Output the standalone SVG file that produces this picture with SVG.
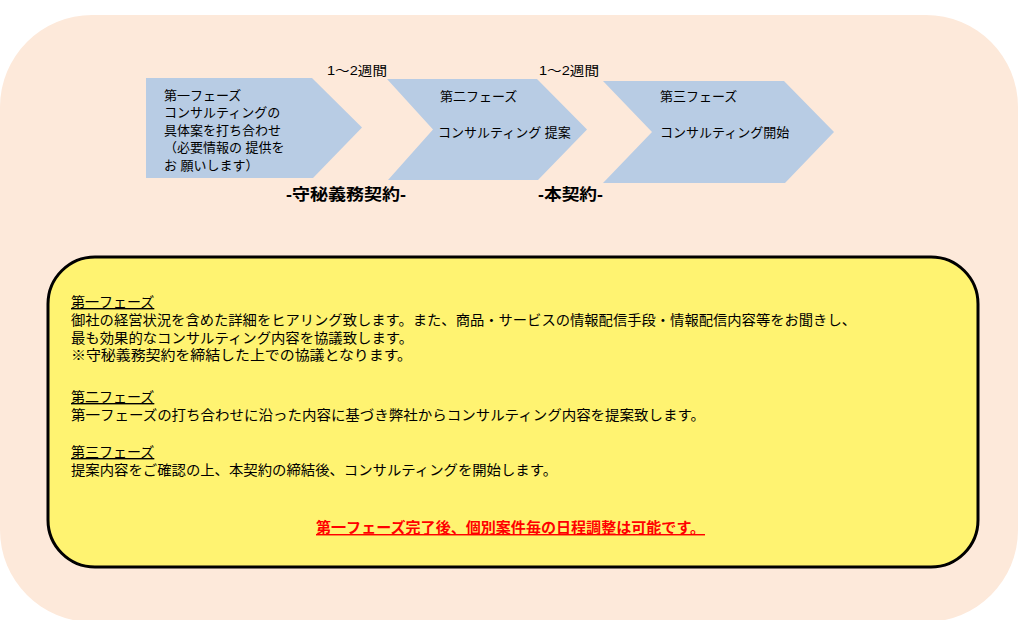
<svg xmlns="http://www.w3.org/2000/svg" width="1018" height="620" viewBox="0 0 1018 620">
  <style>
    text { font-family: 'Liberation Sans', 'Noto Sans CJK JP', sans-serif; fill: #000; }
    .chev { fill: #B8CCE4; }
    .ct { font-size: 13px; }
    .lbl { font-size: 16px; font-weight: bold; }
    .body { font-size: 14px; }
    .hd { font-size: 14px; text-decoration: underline; }
    .note { font-size: 14.5px; font-weight: bold; fill: #FF0000; text-decoration: underline; }
  </style>
  <rect id="background" x="0" y="15" width="1018" height="607" rx="92" ry="92" fill="#FDE9DA"/>

  <g id="phase1">
    <polygon class="chev" points="146,78 312,78 362,127.5 313,178 146,178"/>
    <text class="ct" x="164" y="99.5">第一フェーズ</text>
    <text class="ct" x="164" y="117">コンサルティングの</text>
    <text class="ct" x="164" y="134.5">具体案を打ち合わせ</text>
    <text class="ct" x="164" y="152">（必要情報の 提供を</text>
    <text class="ct" x="164" y="169.5">お 願いします）</text>
  </g>

  <g id="phase2">
    <polygon class="chev" points="387,79 537,79 587,129.5 538,180 388,180 433,129.5"/>
    <text class="ct" x="440" y="101">第二フェーズ</text>
    <text class="ct" x="438" y="136.5">コンサルティング 提案</text>
  </g>

  <g id="phase3">
    <polygon class="chev" points="603,81 784,81 834,132 785,183 603,183 652,132"/>
    <text class="ct" x="660" y="101">第三フェーズ</text>
    <text class="ct" x="660" y="136.5">コンサルティング開始</text>
  </g>

  <g id="connectors"/>

  <g id="labels">
    <text class="ct" x="327" y="75" textLength="60" lengthAdjust="spacingAndGlyphs">1～2週間</text>
    <text class="ct" x="539" y="75" textLength="60" lengthAdjust="spacingAndGlyphs">1～2週間</text>
    <text class="lbl" x="286" y="200" textLength="120" lengthAdjust="spacingAndGlyphs">-守秘義務契約-</text>
    <text class="lbl" x="538" y="200" textLength="65" lengthAdjust="spacingAndGlyphs">-本契約-</text>
  </g>

  <g id="description">
    <rect x="48" y="257" width="930" height="310" rx="47" ry="47" fill="#FFF371" stroke="#000" stroke-width="3"/>
    <text class="hd" x="71" y="307">第一フェーズ</text>
    <text class="body" x="71" y="325" textLength="785" lengthAdjust="spacingAndGlyphs">御社の経営状況を含めた詳細をヒアリング致します。また、商品・サービスの情報配信手段・情報配信内容等をお聞きし、</text>
    <text class="body" x="71" y="342.5" textLength="342" lengthAdjust="spacingAndGlyphs">最も効果的なコンサルティング内容を協議致します。</text>
    <text class="body" x="71" y="360" textLength="341" lengthAdjust="spacingAndGlyphs">※守秘義務契約を締結した上での協議となります。</text>
    <text class="hd" x="71" y="402">第二フェーズ</text>
    <text class="body" x="71" y="420" textLength="634" lengthAdjust="spacingAndGlyphs">第一フェーズの打ち合わせに沿った内容に基づき弊社からコンサルティング内容を提案致します。</text>
    <text class="hd" x="71" y="457">第三フェーズ</text>
    <text class="body" x="71" y="475" textLength="486" lengthAdjust="spacingAndGlyphs">提案内容をご確認の上、本契約の締結後、コンサルティングを開始します。</text>
    <text class="note" x="316" y="533" textLength="389" lengthAdjust="spacingAndGlyphs">第一フェーズ完了後、個別案件毎の日程調整は可能です。</text>
  </g>
</svg>
